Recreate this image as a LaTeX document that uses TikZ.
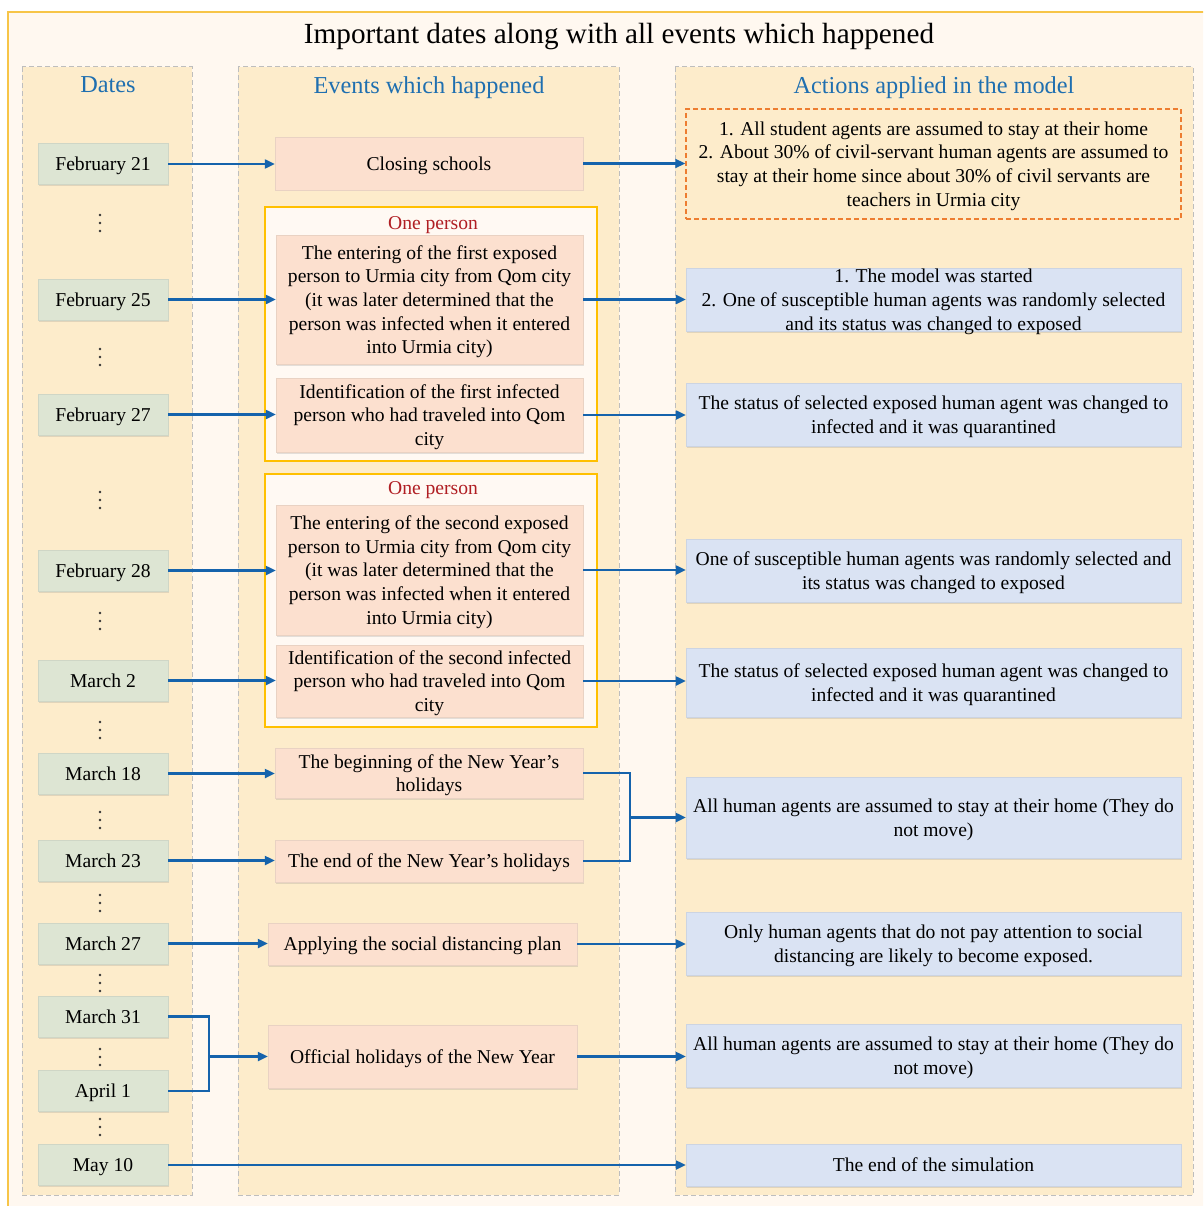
\documentclass[tikz,border=0pt]{standalone}
\usepackage{fontspec}
\setmainfont{Liberation Serif}
\usetikzlibrary{arrows.meta,shadows}
\definecolor{panelfill}{RGB}{253,236,203}
\definecolor{paneldraw}{RGB}{190,190,190}
\definecolor{framegold}{RGB}{247,197,72}
\definecolor{bgcream}{RGB}{255,248,240}
\definecolor{datefill}{RGB}{221,229,211}
\definecolor{evtfill}{RGB}{252,224,207}
\definecolor{actfill}{RGB}{218,227,243}
\definecolor{grpgold}{RGB}{255,192,0}
\definecolor{grpfill}{RGB}{255,249,243}
\definecolor{dashorange}{RGB}{237,125,49}
\definecolor{arrowblue}{RGB}{21,99,172}
\definecolor{headblue}{RGB}{31,111,176}
\definecolor{darkred}{RGB}{176,30,35}
\begin{document}
\begin{tikzpicture}[x=1pt,y=-1pt,
  base/.style={inner sep=0pt, align=center, text depth=0pt, font=\fontsize{19.6}{23.7}\selectfont},
  shad/.style={drop shadow={shadow xshift=1.2pt, shadow yshift=-1.5pt, opacity=0.22, fill=gray}},
  datebox/.style={base, shad, fill=datefill, draw=datefill!85!gray, line width=0.4pt, minimum width=130pt, minimum height=41pt},
  evtbox/.style={base, shad, fill=evtfill, draw=evtfill!85!gray, line width=0.4pt, minimum width=307pt},
  actbox/.style={base, shad, fill=actfill, draw=actfill!85!gray, line width=0.4pt, minimum width=495pt},
  panel/.style={fill=panelfill, draw=paneldraw, dashed, dash pattern=on 5pt off 3pt, line width=1pt},
  grp/.style={fill=grpfill, draw=grpgold, line width=1.6pt},
  header/.style={text=headblue, text depth=0pt, font=\fontsize{24.3}{28}\selectfont},
  lbl/.style={text=darkred, text depth=0pt, font=\fontsize{19.6}{23}\selectfont},
  line/.style={draw=arrowblue, line width=2.2pt, line join=miter},
  arr/.style={line, -{Triangle[length=10pt,width=9pt]}},
  dotsty/.style={fill=black!80}
]
\path[use as bounding box] (0,0) rectangle (1203,1206);
\begin{scope}
\clip (0,0) rectangle (1203,1206);
\fill[white] (0,0) rectangle (1203,1206);
\draw[framegold, fill=bgcream, line width=2pt] (8,12) rectangle (1230,1230);
\end{scope}

% title
\node[text depth=0pt, font=\fontsize{29.2}{34}\selectfont] (title) at (619,33) {Important dates along with all events which happened};

% panels
\path[panel] (22,67) rectangle (192,1195);
\path[panel] (238,67) rectangle (619,1195);
\path[panel] (675,67) rectangle (1193,1195);
\node[header] (h1) at (108,85) {Dates};
\node[header] (h2) at (429,85) {Events which happened};
\node[header] (h3) at (934,85) {Actions applied in the model};

% group frames
\node[grp, minimum width=332pt, minimum height=254pt, inner sep=0pt] (g1) at (431,334) {};
\node[grp, minimum width=332pt, minimum height=253pt, inner sep=0pt] (g2) at (431,600.5) {};
\node[lbl] (l1) at (433,223) {One person};
\node[lbl] (l2) at (433,488) {One person};

% dates
\node[datebox] (d1) at (103,164) {February 21};
\node[datebox] (d2) at (103,299.5) {February 25};
\node[datebox] (d3) at (103,414.5) {February 27};
\node[datebox] (d4) at (103,570.5) {February 28};
\node[datebox] (d5) at (103,680.5) {March 2};
\node[datebox] (d6) at (103,773.5) {March 18};
\node[datebox] (d7) at (103,860.5) {March 23};
\node[datebox] (d8) at (103,943.5) {March 27};
\node[datebox] (d9) at (103,1016.5) {March 31};
\node[datebox] (d10) at (103,1091) {April 1};
\node[datebox] (d11) at (103,1165) {May 10};

% vertical dots
\foreach \yy in {223,357,500,621,730,820,903,983,1057,1127}{
  \fill[dotsty] (100,\yy-8) circle (1.4pt) (100,\yy) circle (1.4pt) (100,\yy+8) circle (1.4pt);
}

% events
\node[evtbox, minimum width=308pt, minimum height=53pt] (e1) at (429,163.5) {Closing schools};
\node[evtbox, minimum height=129pt] (e2) at (429.5,299.5) {The entering of the first exposed\\person to Urmia city from Qom city\\(it was later determined that the\\person was infected when it entered\\into Urmia city)};
\node[evtbox, minimum height=74pt] (e3) at (429.5,415) {Identification of the first infected\\person who had traveled into Qom\\city};
\node[evtbox, minimum height=130pt] (e4) at (429.5,570) {The entering of the second exposed\\person to Urmia city from Qom city\\(it was later determined that the\\person was infected when it entered\\into Urmia city)};
\node[evtbox, minimum height=72pt] (e5) at (429.5,681) {Identification of the second infected\\person who had traveled into Qom\\city};
\node[evtbox, minimum width=308pt, minimum height=50pt] (e6) at (429,773) {The beginning of the New Year’s\\holidays};
\node[evtbox, minimum width=308pt, minimum height=42pt] (e7) at (429,861) {The end of the New Year’s holidays};
\node[evtbox, minimum width=309pt, minimum height=42pt] (e8) at (422.5,944) {Applying the social distancing plan};
\node[evtbox, minimum width=309pt, minimum height=63pt] (e9) at (422.5,1056.5) {Official holidays of the New Year};

% actions
\node[base, minimum width=495pt, minimum height=110pt, draw=dashorange, dashed, dash pattern=on 5pt off 3pt, line width=1.5pt] (a1) at (933.5,164) {1. All student agents are assumed to stay at their home\\2. About 30\% of civil-servant human agents are assumed to\\stay at their home since about 30\% of civil servants are\\teachers in Urmia city};
\node[actbox, minimum height=63pt] (a2) at (933.5,299.5) {1. The model was started\\2. One of susceptible human agents was randomly selected\\and its status was changed to exposed};
\node[actbox, minimum height=63pt] (a3) at (933.5,414.5) {The status of selected exposed human agent was changed to\\infected and it was quarantined};
\node[actbox, minimum height=63pt] (a4) at (933.5,570.5) {One of susceptible human agents was randomly selected and\\its status was changed to exposed};
\node[actbox, minimum height=69pt] (a5) at (933.5,682.5) {The status of selected exposed human agent was changed to\\infected and it was quarantined};
\node[actbox, minimum height=81pt] (a6) at (933.5,817.5) {All human agents are assumed to stay at their home (They do\\not move)};
\node[actbox, minimum height=63pt] (a7) at (933.5,943.5) {Only human agents that do not pay attention to social\\distancing are likely to become exposed.};
\node[actbox, minimum height=63pt] (a8) at (933.5,1055.5) {All human agents are assumed to stay at their home (They do\\not move)};
\node[actbox, minimum height=42pt] (a9) at (933.5,1165) {The end of the simulation};

% arrows date -> event
\draw[arr] (d1.east) -- (d1.east -| e1.west);
\draw[arr] (d2.east) -- (d2.east -| e2.west);
\draw[arr] (d3.east) -- (d3.east -| e3.west);
\draw[arr] (d4.east) -- (d4.east -| e4.west);
\draw[arr] (d5.east) -- (d5.east -| e5.west);
\draw[arr] (d6.east) -- (d6.east -| e6.west);
\draw[arr] (d7.east) -- (d7.east -| e7.west);
\draw[arr] (d8.east) -- (d8.east -| e8.west);
\coordinate (m2) at (209,1056.5);
\draw[line] (d9.east) -| (m2);
\draw[line] (d10.east) -| (m2);
\draw[arr] (m2) -- (m2 -| e9.west);
\draw[arr] (d11.east) -- (d11.east -| a9.west);

% arrows event -> action
\draw[arr] (e1.east) -- (e1.east -| a1.west);
\draw[arr] (e2.east) -- (e2.east -| a2.west);
\draw[arr] (e3.east) -- (e3.east -| a3.west);
\draw[arr] (e4.east) -- (e4.east -| a4.west);
\draw[arr] (e5.east) -- (e5.east -| a5.west);
\coordinate (m1) at (630,817.5);
\draw[line] (e6.east) -| (m1);
\draw[line] (e7.east) -| (m1);
\draw[arr] (m1) -- (m1 -| a6.west);
\draw[arr] (e8.east) -- (e8.east -| a7.west);
\draw[arr] (e9.east) -- (e9.east -| a8.west);
\end{tikzpicture}
\end{document}
